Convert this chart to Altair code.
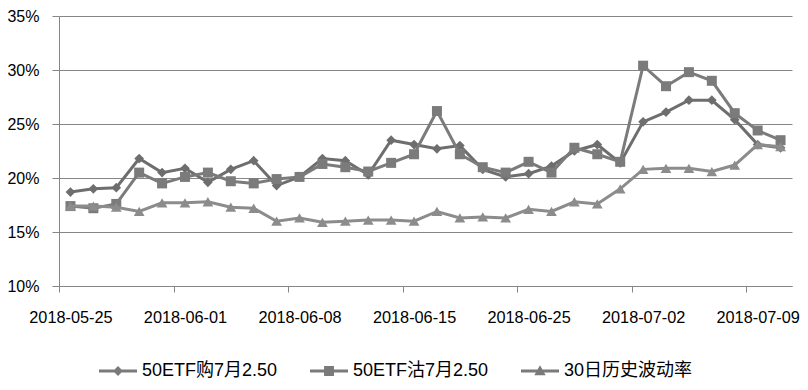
import altair as alt
import pandas as pd

dates = ["2018-05-25", "2018-05-28", "2018-05-29", "2018-05-30", "2018-05-31", "2018-06-01",
         "2018-06-04", "2018-06-05", "2018-06-06", "2018-06-07", "2018-06-08",
         "2018-06-11", "2018-06-12", "2018-06-13", "2018-06-14", "2018-06-15",
         "2018-06-19", "2018-06-20", "2018-06-21", "2018-06-22",
         "2018-06-25", "2018-06-26", "2018-06-27", "2018-06-28", "2018-06-29",
         "2018-07-02", "2018-07-03", "2018-07-04", "2018-07-05", "2018-07-06",
         "2018-07-09", "2018-07-10"]

call_vol = [18.7, 19.0, 19.1, 21.8, 20.5, 20.9, 19.6, 20.8, 21.6, 19.3, 20.1,
            21.8, 21.6, 20.3, 23.5, 23.1, 22.7, 23.0, 20.8, 20.1,
            20.4, 21.1, 22.5, 23.1, 21.4, 25.2, 26.1, 27.2, 27.2, 25.4, 23.1, 22.8]
put_vol = [17.4, 17.2, 17.6, 20.5, 19.5, 20.1, 20.5, 19.7, 19.5, 19.9, 20.1,
           21.3, 21.0, 20.6, 21.4, 22.2, 26.2, 22.2, 21.0, 20.5,
           21.5, 20.5, 22.8, 22.2, 21.5, 30.4, 28.5, 29.8, 29.0, 26.0, 24.4, 23.5]
hist_vol = [17.4, 17.4, 17.3, 16.9, 17.7, 17.7, 17.8, 17.3, 17.2, 16.0, 16.3,
            15.9, 16.0, 16.1, 16.1, 16.0, 16.9, 16.3, 16.4, 16.3,
            17.1, 16.9, 17.8, 17.6, 19.0, 20.8, 20.9, 20.9, 20.6, 21.2, 23.1, 22.9]

series_names = ["50ETF购7月2.50", "50ETF沽7月2.50", "30日历史波动率"]
series_values = [call_vol, put_vol, hist_vol]
series_colors = ["#6e6e6e", "#7b7b7b", "#8c8c8c"]
series_shapes = ["diamond", "square", "triangle-up"]
series_sizes = [95, 100, 115]
legend_paths = [
    "M-1,-0.08H1V0.08H-1Z M0,-0.26L0.26,0L0,0.26L-0.26,0Z",
    "M-1,-0.08H1V0.08H-1Z M-0.26,-0.26H0.26V0.26H-0.26Z",
    "M-1,-0.08H1V0.08H-1Z M0,-0.3L0.3,0.22H-0.3Z",
]
y_ticks = [0.10, 0.15, 0.20, 0.25, 0.30, 0.35]

rows = []
for name, vals in zip(series_names, series_values):
    for i, (d, v) in enumerate(zip(dates, vals)):
        rows.append({"series": name, "idx": i, "date": d, "value": v / 100.0})
df = pd.DataFrame(rows)

n = len(dates)
W, H = 733, 270
bounds = [k - 0.5 for k in range(0, n, 5)]
label_arr = "[" + ",".join("'%s'" % d for d in dates) + "]"
FONT = "Liberation Sans, Arial, Noto Sans CJK SC"
GRID = "#868686"

X = alt.X("idx:Q",
          scale=alt.Scale(domain=[-0.5, n - 0.5], nice=False, zero=False),
          axis=alt.Axis(values=bounds, labelExpr=label_arr + "[datum.value + 0.5]",
                        labelOffset=W / n / 2, tickSize=6, tickColor=GRID,
                        domainColor=GRID, domainWidth=1, grid=False, title=None,
                        labelOverlap=False, labelFlush=False, labelFont=FONT,
                        labelFontSize=16.3, labelColor="#000000", labelPadding=17))
Y = alt.Y("value:Q",
          scale=alt.Scale(domain=[0.10, 0.35], nice=False, zero=False),
          axis=alt.Axis(values=y_ticks, format=".0%", grid=True, gridColor=GRID,
                        gridWidth=1, tickSize=7, tickColor=GRID, domainColor=GRID,
                        title=None, labelFont=FONT, labelFontSize=16,
                        labelColor="#000000", labelPadding=13))

base = alt.Chart(df)
layers = []
for name, c, shp, sz in zip(series_names, series_colors, series_shapes, series_sizes):
    sub = base.transform_filter(alt.datum.series == name)
    layers.append(sub.mark_line(color=c, strokeWidth=3).encode(x=X, y=Y))
    layers.append(sub.mark_point(shape=shp, filled=True, size=sz, color=c, opacity=1)
                  .encode(x=X, y=Y))

legend_layer = base.transform_filter("false").mark_point(
    filled=True, color="#7a7a7a", opacity=1).encode(
    x=X, y=Y,
    shape=alt.Shape("series:N",
                    scale=alt.Scale(domain=series_names, range=legend_paths),
                    legend=alt.Legend(orient="none", legendX=40, legendY=336,
                                      direction="horizontal", title=None,
                                      symbolSize=1444, symbolStrokeWidth=0,
                                      symbolFillColor="#7a7a7a",
                                      labelFont=FONT, labelFontSize=18,
                                      labelColor="#000000", labelOffset=5,
                                      columnPadding=32, labelLimit=400,
                                      padding=0)))
layers.append(legend_layer)

chart = alt.layer(*layers).properties(
    width=W, height=H,
    padding={"left": 51, "top": 8, "right": 8, "bottom": 96},
    autosize=alt.AutoSizeParams(type="none"),
    background="white",
).configure_view(stroke=None)

chart.save("out.html", embed_options={"renderer": "svg", "actions": False})
